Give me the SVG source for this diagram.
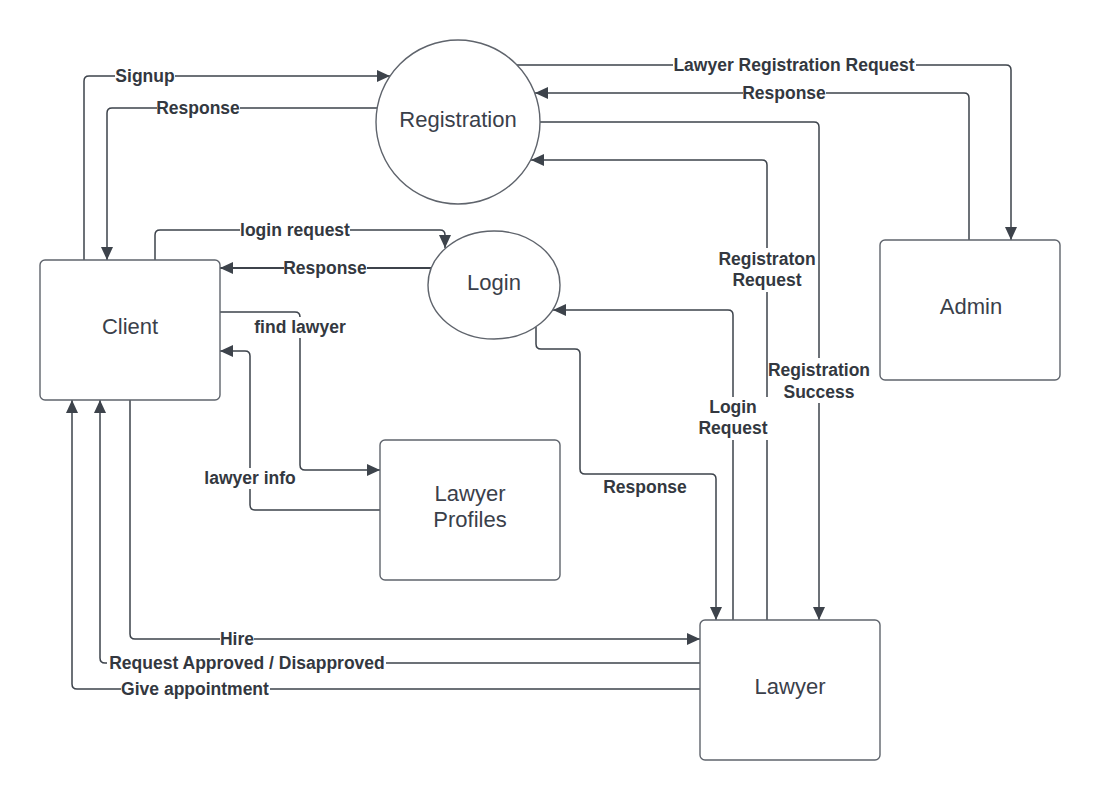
<svg xmlns="http://www.w3.org/2000/svg" width="1100" height="800" viewBox="0 0 1100 800">
<style>
.node{fill:#ffffff;stroke:#5f646c;stroke-width:1.4}
.ntext{font-family:"Liberation Sans",Arial,sans-serif;font-size:22px;fill:#3a404a;text-anchor:middle}
.conn{fill:none;stroke:#3d434b;stroke-width:1.5}
.lbl{font-family:"Liberation Sans",Arial,sans-serif;font-size:17.5px;font-weight:bold;fill:#333840;text-anchor:middle}
.bg{fill:#ffffff;stroke:none}
</style>
<defs>
<marker id="arr" markerUnits="userSpaceOnUse" markerWidth="14" markerHeight="12" refX="13" refY="6" orient="auto">
<path d="M0,0 L13,6 L0,12 z" fill="#3d434b"/>
</marker>
</defs>
<rect width="1100" height="800" fill="#ffffff"/>

<g id="connectors">
<path class="conn" d="M84,260 V81 Q84,76 89,76 H390" marker-end="url(#arr)"/>
<path class="conn" d="M377,108 H112 Q107,108 107,113 V260" marker-end="url(#arr)"/>
<path class="conn" d="M155,260 V235 Q155,230 160,230 H440 Q445,230 445,235 V248" marker-end="url(#arr)"/>
<path class="conn" style="stroke-width:2.2" d="M431,268 H220" marker-end="url(#arr)"/>
<path class="conn" d="M220,312 H295 Q300,312 300,317 V465 Q300,470 305,470 H380" marker-end="url(#arr)"/>
<path class="conn" d="M380,510 H255 Q250,510 250,505 V356 Q250,351 245,351 H220" marker-end="url(#arr)"/>
<path class="conn" d="M130,400 V634 Q130,639 135,639 H700" marker-end="url(#arr)"/>
<path class="conn" d="M700,663 H105 Q100,663 100,658 V400" marker-end="url(#arr)"/>
<path class="conn" d="M700,689 H77 Q72,689 72,684 V400" marker-end="url(#arr)"/>
<path class="conn" d="M536,327 V344 Q536,349 541,349 H575 Q580,349 580,354 V469 Q580,474 585,474 H711 Q716,474 716,479 V620" marker-end="url(#arr)"/>
<path class="conn" d="M733,620 V315 Q733,310 728,310 H553" marker-end="url(#arr)"/>
<path class="conn" d="M767,620 V165 Q767,160 762,160 H531" marker-end="url(#arr)"/>
<path class="conn" d="M540,122 H814 Q819,122 819,127 V620" marker-end="url(#arr)"/>
<path class="conn" d="M517,65 H1006 Q1011,65 1011,70 V240" marker-end="url(#arr)"/>
<path class="conn" d="M969,240 V98 Q969,93 964,93 H535" marker-end="url(#arr)"/>

<rect class="bg" x="115" y="66" width="60" height="20"/>
<text class="lbl" x="145" y="82">Signup</text>
<rect class="bg" x="157" y="98" width="83" height="20"/>
<text class="lbl" x="198" y="114">Response</text>
<rect class="bg" x="240" y="220" width="110" height="20"/>
<text class="lbl" x="295" y="236">login request</text>
<rect class="bg" x="284" y="258" width="83" height="20"/>
<text class="lbl" x="325" y="274">Response</text>
<rect class="bg" x="252" y="317" width="96" height="21"/>
<text class="lbl" x="300" y="333">find lawyer</text>
<rect class="bg" x="202" y="468" width="96" height="21"/>
<text class="lbl" x="250" y="484">lawyer info</text>
<rect class="bg" x="220" y="629" width="34" height="20"/>
<text class="lbl" x="237" y="645">Hire</text>
<rect class="bg" x="107" y="653" width="279" height="20"/>
<text class="lbl" x="247" y="669">Request Approved / Disapproved</text>
<rect class="bg" x="121" y="679" width="149" height="20"/>
<text class="lbl" x="195" y="695">Give appointment</text>
<text class="lbl" x="645" y="493">Response</text>
<rect class="bg" x="698" y="397" width="71" height="43"/>
<text class="lbl" x="733" y="413">Login</text>
<text class="lbl" x="733" y="434">Request</text>
<rect class="bg" x="719" y="248" width="96" height="44"/>
<text class="lbl" x="767" y="265">Registraton</text>
<text class="lbl" x="767" y="286">Request</text>
<rect class="bg" x="770" y="358" width="98" height="45"/>
<text class="lbl" x="819" y="376">Registration</text>
<text class="lbl" x="819" y="398">Success</text>
<rect class="bg" x="673" y="55" width="243" height="20"/>
<text class="lbl" x="794" y="71">Lawyer Registration Request</text>
<rect class="bg" x="743" y="83" width="83" height="20"/>
<text class="lbl" x="784" y="99">Response</text>
</g>

<g id="registration">
<circle class="node" cx="458" cy="122" r="82"/>
<text class="ntext" x="458" y="127">Registration</text>
</g>
<g id="login">
<ellipse class="node" cx="494" cy="285" rx="66" ry="54"/>
<text class="ntext" x="494" y="290">Login</text>
</g>
<g id="client">
<rect class="node" x="40" y="260" width="180" height="140" rx="5"/>
<text class="ntext" x="130" y="334">Client</text>
</g>
<g id="lawyer-profiles">
<rect class="node" x="380" y="440" width="180" height="140" rx="5"/>
<text class="ntext" x="470" y="501">Lawyer</text>
<text class="ntext" x="470" y="527">Profiles</text>
</g>
<g id="lawyer">
<rect class="node" x="700" y="620" width="180" height="140" rx="5"/>
<text class="ntext" x="790" y="694">Lawyer</text>
</g>
<g id="admin">
<rect class="node" x="880" y="240" width="180" height="140" rx="5"/>
<text class="ntext" x="971" y="314">Admin</text>
</g>
</svg>
